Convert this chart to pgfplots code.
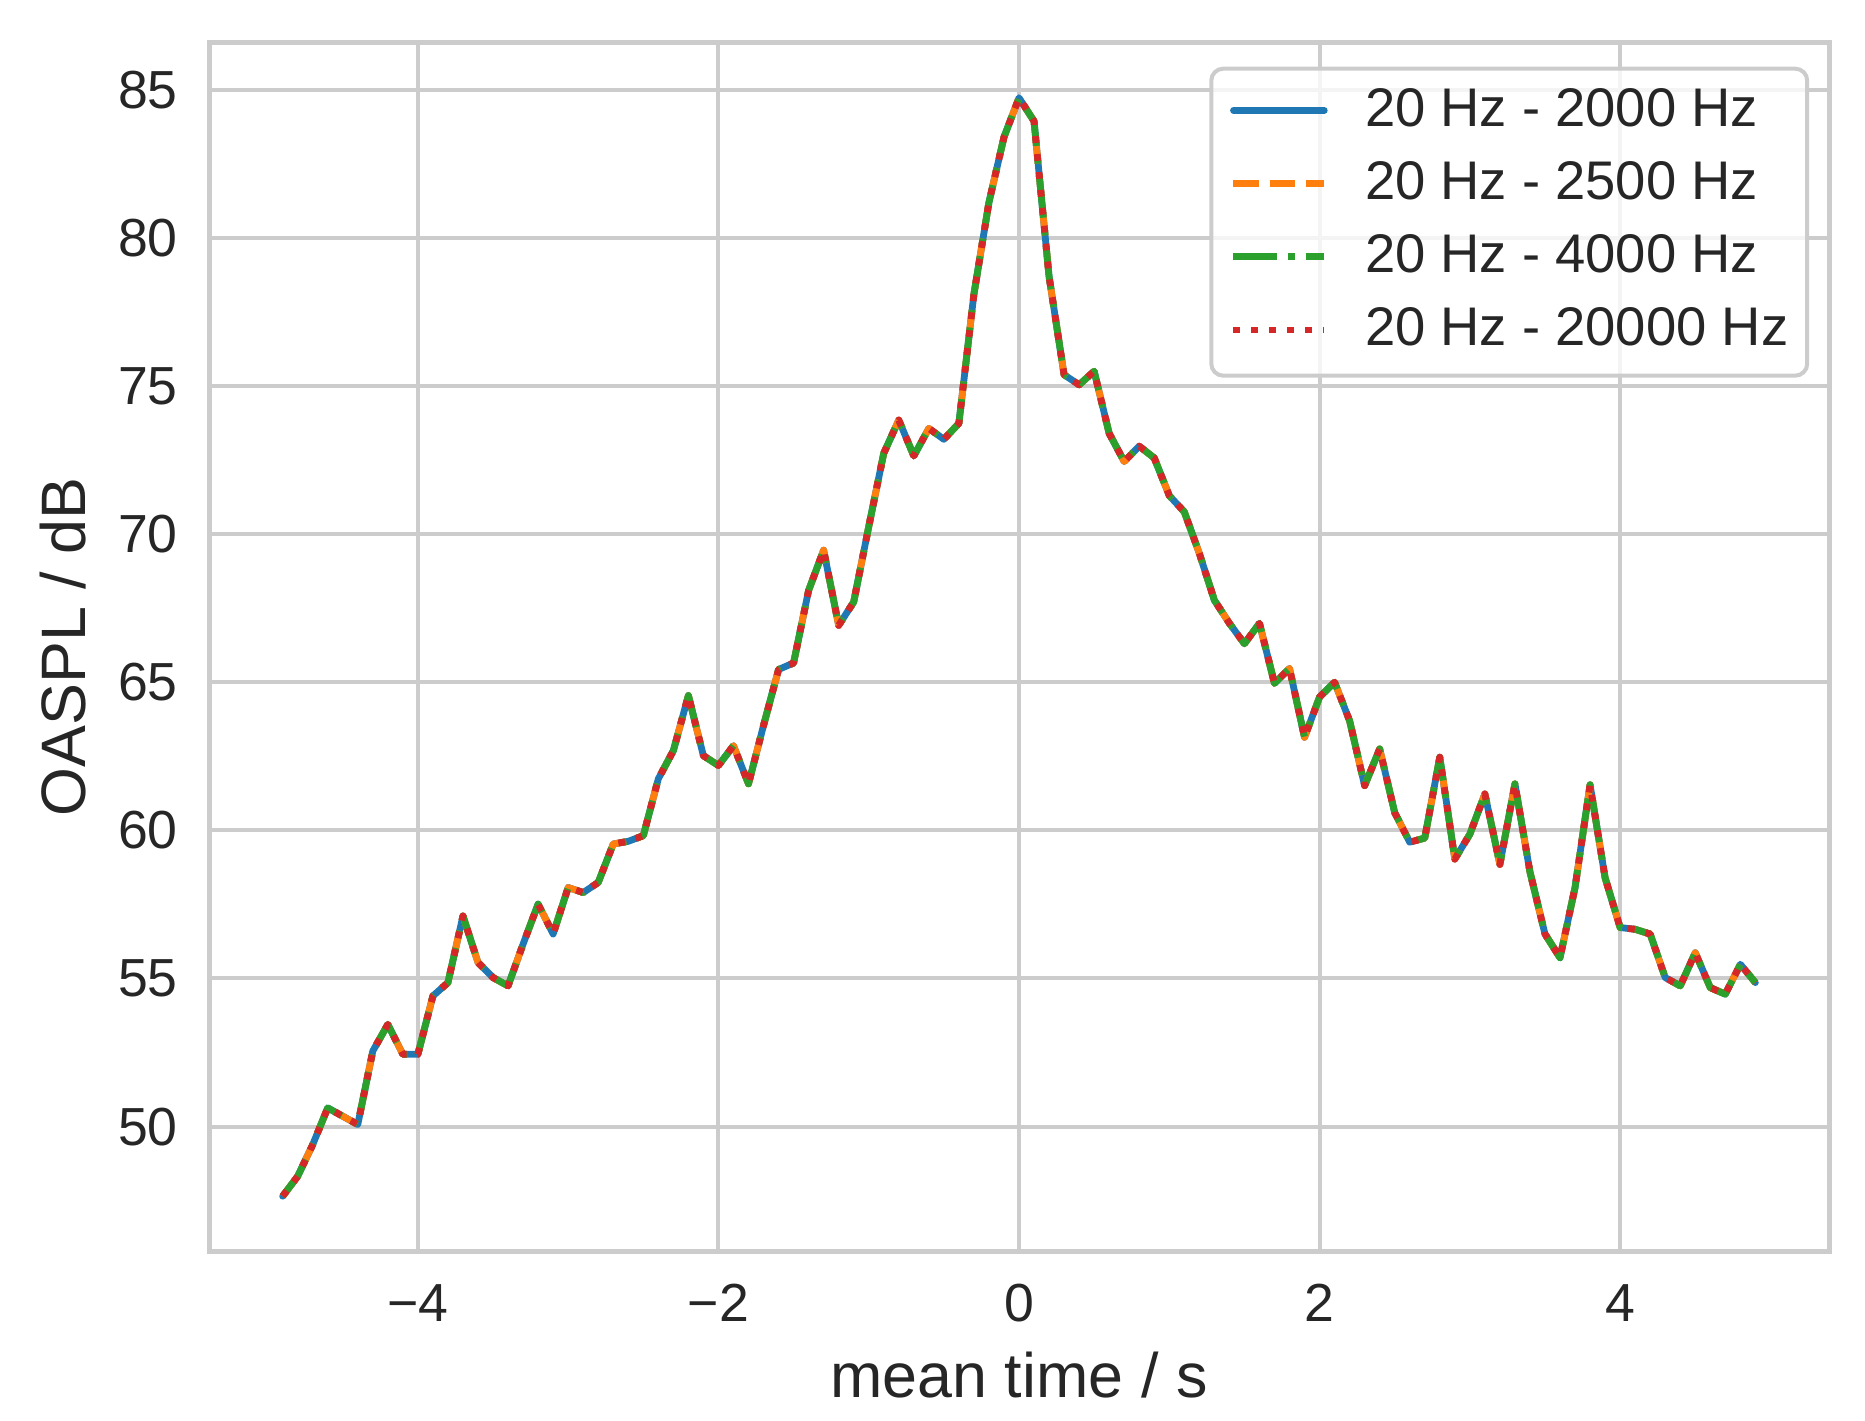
\documentclass[border=0pt]{standalone}
\usepackage{fontspec}
\setmainfont{Liberation Sans}
\usepackage{pgfplots}
\pgfplotsset{compat=1.18}
\usepackage{pgfplotstable}

\definecolor{tabblue}{HTML}{1F77B4}
\definecolor{taborange}{HTML}{FF7F0E}
\definecolor{tabgreen}{HTML}{2CA02C}
\definecolor{tabred}{HTML}{D62728}
\definecolor{txt}{HTML}{262626}
\definecolor{gridc}{HTML}{CCCCCC}

% mean time / s, OASPL / dB (the four bands lie on top of each other)
\pgfplotstableread{
t     L
-4.9  47.65
-4.8  48.32
-4.7  49.39
-4.6  50.63
-4.5  50.35
-4.4  50.07
-4.3  52.55
-4.2  53.45
-4.1  52.44
-4.0  52.44
-3.9  54.41
-3.8  54.86
-3.7  57.11
-3.6  55.54
-3.5  55.03
-3.4  54.75
-3.3  56.16
-3.2  57.51
-3.1  56.50
-3.0  58.07
-2.9  57.90
-2.8  58.24
-2.7  59.54
-2.6  59.63
-2.5  59.82
-2.4  61.74
-2.3  62.69
-2.2  64.55
-2.1  62.52
-2.0  62.19
-1.9  62.86
-1.8  61.57
-1.7  63.54
-1.6  65.43
-1.5  65.65
-1.4  68.10
-1.3  69.46
-1.2  66.92
-1.1  67.71
-1.0  70.25
-0.9  72.73
-0.8  73.85
-0.7  72.64
-0.6  73.57
-0.5  73.20
-0.4  73.74
-0.3  78.10
-0.2  81.20
-0.1  83.40
 0.0  84.73
 0.1  83.94
 0.2  78.70
 0.3  75.38
 0.4  75.04
 0.5  75.50
 0.6  73.40
 0.7  72.45
 0.8  72.97
 0.9  72.57
 1.0  71.30
 1.1  70.75
 1.2  69.35
 1.3  67.77
 1.4  66.99
 1.5  66.30
 1.6  66.99
 1.7  64.96
 1.8  65.47
 1.9  63.14
 2.0  64.50
 2.1  65.00
 2.2  63.70
 2.3  61.51
 2.4  62.75
 2.5  60.60
 2.6  59.60
 2.7  59.74
 2.8  62.47
 2.9  59.03
 3.0  59.87
 3.1  61.23
 3.2  58.85
 3.3  61.57
 3.4  58.60
 3.5  56.50
 3.6  55.70
 3.7  58.07
 3.8  61.54
 3.9  58.40
 4.0  56.72
 4.1  56.66
 4.2  56.50
 4.3  55.03
 4.4  54.75
 4.5  55.87
 4.6  54.69
 4.7  54.47
 4.8  55.48
 4.9  54.86
}\oaspl

\begin{document}
\begin{tikzpicture}
  \begin{axis}[
    scale only axis,
    width=405pt, height=302pt,
    xmin=-5.39, xmax=5.39,
    ymin=45.8, ymax=86.58,
    xtick={-4,-2,0,2,4},
    xticklabels={−4,−2,0,2,4},
    ytick={50,55,60,65,70,75,80,85},
    yticklabels={50,55,60,65,70,75,80,85},
    major tick length=0pt,
    grid=major,
    grid style={gridc, line width=1pt},
    axis line style={gridc, line width=1.25pt},
    ticklabel style={font=\fontsize{13.4}{16}\selectfont, text=txt},
    xticklabel style={inner sep=0pt, anchor=north, yshift=-8.1pt},
    yticklabel style={inner sep=0pt, anchor=east, xshift=-7.6pt},
    xlabel={mean time / s},
    ylabel={OASPL / dB},
    label style={font=\fontsize{15.7}{18}\selectfont, text=txt, inner sep=0pt},
    xlabel style={at={(axis description cs:0.5,0)}, anchor=base, yshift=-36.6pt},
    ylabel style={at={([xshift=-30.9pt]axis description cs:0,0.5)}, anchor=base},
    legend cell align=left,
    legend style={at={(0.9878,0.9804)}, anchor=north east,
      draw=gridc, line width=1pt, rounded corners=3pt,
      fill=white, fill opacity=0.8, draw opacity=1, text opacity=1,
      font=\fontsize{13.6}{16}\selectfont, text=txt,
      inner xsep=4.7pt, inner ysep=4.6pt, row sep=5.65pt,
      nodes={inner sep=0pt, text height=9.75pt, text depth=2.9pt},
      /tikz/every odd column/.append style={column sep=9.35pt}},
    legend image code/.code={\draw[#1] (0pt,0.5pt) -- (22.7pt,0.5pt);},
    every axis plot/.append style={line width=1.7pt, line join=round},
  ]
    \addplot[tabblue, line cap=round] table[x=t, y=L] {\oaspl};
    \addlegendentry{20 Hz - 2000 Hz}
    \addplot[taborange, dash pattern=on 6.29pt off 2.72pt] table[x=t, y=L] {\oaspl};
    \addlegendentry{20 Hz - 2500 Hz}
    \addplot[tabgreen, dash pattern=on 10.88pt off 2.72pt on 1.7pt off 2.72pt] table[x=t, y=L] {\oaspl};
    \addlegendentry{20 Hz - 4000 Hz}
    \addplot[tabred, dash pattern=on 1.7pt off 2.8pt] table[x=t, y=L] {\oaspl};
    \addlegendentry{20 Hz - 20000 Hz}

    \coordinate (sw) at (rel axis cs:0,0);
    \coordinate (ne) at (rel axis cs:1,1);
  \end{axis}
  \pgfresetboundingbox
  \path[use as bounding box] ([xshift=-52.25pt,yshift=-42.25pt]sw) rectangle ([xshift=9pt,yshift=10.75pt]ne);
\end{tikzpicture}
\end{document}
